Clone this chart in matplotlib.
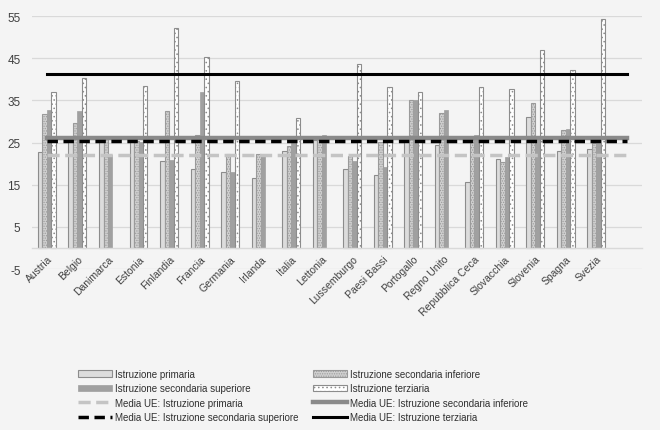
import numpy as np
import matplotlib
matplotlib.use('Agg')
import matplotlib.pyplot as plt

paesi = ['Austria', 'Belgio', 'Danimarca', 'Estonia', 'Finlandia', 'Francia', 'Germania',
         'Irlanda', 'Italia', 'Lettonia', 'Lussemburgo', 'Paesi Bassi', 'Portogallo',
         'Regno Unito', 'Repubblica Ceca', 'Slovacchia', 'Slovenia', 'Spagna', 'Svezia', '']
nan = np.nan
primaria = [22.7, 25.8, 25.5, 25.6, 20.6, 18.8, 17.9, 16.6, 23.1, 25.5,
            18.8, 17.3, 25.3, 24.5, 15.6, 21.0, 31.1, 22.9, 23.5, nan]
sec_inferiore = [31.8, 29.6, 25.8, 25.3, 32.4, 26.7, 22.3, 22.3, 24.1, 25.6,
                 21.7, 25.2, 35.0, 31.9, 26.2, 20.4, 34.4, 27.9, 25.0, nan]
sec_superiore = [32.6, 32.5, 22.0, 25.2, 20.8, 37.1, 17.9, 22.3, 25.3, 26.7,
                 20.7, 19.1, 35.2, 32.7, 26.7, 21.6, 25.8, 28.3, 25.5, nan]
terziaria = [36.9, 40.4, nan, 38.3, 52.2, 45.4, 39.5, nan, 30.7, nan,
             43.6, 38.2, 37.1, nan, 38.1, 37.8, 46.9, 42.2, 54.4, nan]

# medie UE
media_primaria = 22.0
media_inferiore = 26.1
media_superiore = 25.3
media_terziaria = 41.3

plt.rcParams['font.family'] = ['Liberation Sans', 'DejaVu Sans']
plt.rcParams['hatch.linewidth'] = 0.6
plt.rcParams['axes.unicode_minus'] = False

bg = '#f4f4f4'
txt = '#404040'
fig = plt.figure(figsize=(6.6, 4.31), dpi=100, facecolor=bg)
ax = fig.add_axes([0.048, 0.3735, 0.925, 0.587], facecolor=bg)

x = np.arange(len(paesi))
w = 0.147
ax.bar(x - 1.5 * w, primaria, w, color='#dcdcdc', edgecolor='#8c8c8c', linewidth=0.8,
       label='Istruzione primaria', zorder=2)
ax.bar(x - 0.5 * w, sec_inferiore, w, color='#d0d0d0', edgecolor='#9a9a9a', linewidth=0.8,
       hatch='.......', label='Istruzione secondaria inferiore', zorder=2)
ax.bar(x + 0.5 * w, sec_superiore, w, color='#a0a0a0', edgecolor='#a0a0a0', linewidth=0.5,
       label='Istruzione secondaria superiore', zorder=2)
ax.bar(x + 1.5 * w, terziaria, w, color='white', edgecolor='#8c8c8c', linewidth=0.8,
       hatch='....', label='Istruzione terziaria', zorder=2)

ax.plot(x, [media_primaria] * len(x), color='#c4c4c4', lw=2.5, ls=(0, (3.5, 1.6)),
        label='Media UE: Istruzione primaria', zorder=3)
ax.plot(x, [media_inferiore] * len(x), color='#8a8a8a', lw=3.2,
        label='Media UE: Istruzione secondaria inferiore', zorder=3)
ax.plot(x, [media_superiore] * len(x), color='black', lw=2.5, ls=(0, (3, 1.6)),
        label='Media UE: Istruzione secondaria superiore', zorder=4)
ax.plot(x, [media_terziaria] * len(x), color='black', lw=2.2,
        label='Media UE: Istruzione terziaria', zorder=3)

ax.set_xlim(-0.5, len(paesi) - 0.5)
ax.set_ylim(-5, 55)
ax.set_yticks(np.arange(-5, 56, 10))
ax.yaxis.grid(True, color='#d9d9d9', lw=0.9, zorder=0)
ax.set_axisbelow(True)
for s in ['top', 'right', 'left']:
    ax.spines[s].set_visible(False)
ax.spines['bottom'].set_position(('data', 0))
ax.spines['bottom'].set_color('#d9d9d9')
ax.spines['bottom'].set_linewidth(1.0)
ax.set_xticks(x)
ax.set_xticklabels(paesi, rotation=45, ha='right', rotation_mode='anchor')
ax.tick_params(axis='x', length=0, pad=4, labelsize=7.5, labelcolor=txt)
ax.tick_params(axis='y', length=0, pad=8, labelsize=8.5, labelcolor=txt)

h, l = ax.get_legend_handles_labels()
# h: 4 linee poi 4 barre
col1 = [h[4], h[6], h[0], h[2]]
lab1 = [l[4], l[6], l[0], l[2]]
col2 = [h[5], h[7], h[1], h[3]]
lab2 = [l[5], l[7], l[1], l[3]]
leg_kw = dict(loc='upper left', frameon=False, fontsize=7, handlelength=3.5,
              handletextpad=0.35, labelspacing=0.45, borderpad=0, borderaxespad=0,
              labelcolor='#303030')
fig.legend(col1, lab1, bbox_to_anchor=(78 / 660, 1 - 370 / 431), **leg_kw)
fig.legend(col2, lab2, bbox_to_anchor=(313 / 660, 1 - 370 / 431), **leg_kw)

fig.savefig('out.png', dpi=100, facecolor=bg)
